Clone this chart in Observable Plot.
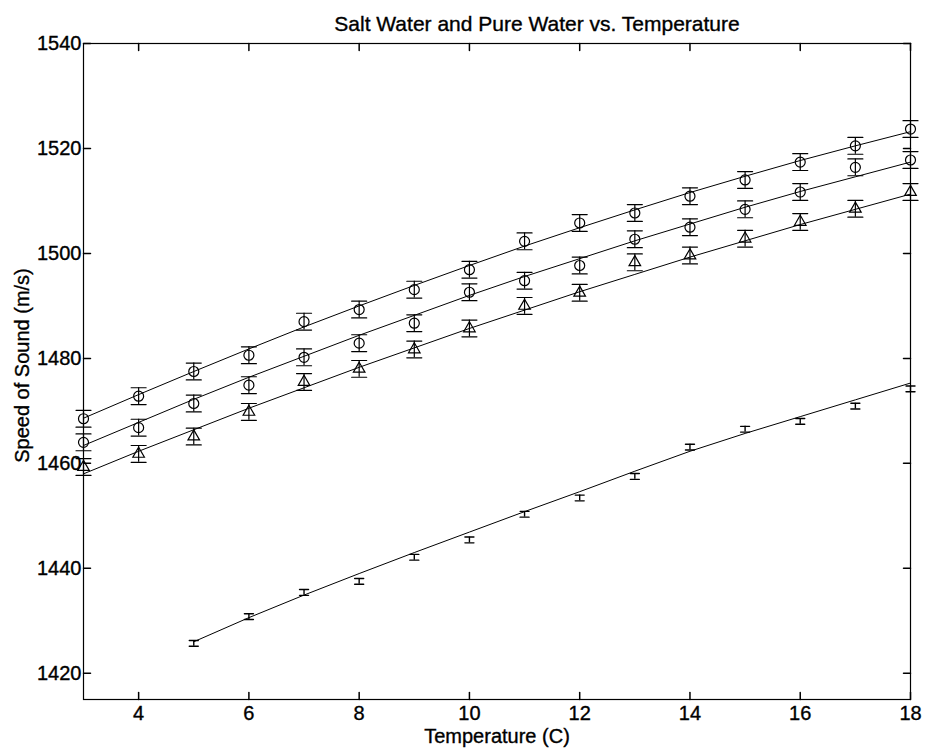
<!DOCTYPE html>
<html>
<head>
<meta charset="utf-8">
<script src="https://cdn.jsdelivr.net/npm/d3@7"></script>
<script src="https://cdn.jsdelivr.net/npm/@observablehq/plot@0.6"></script>
<style>
  html, body { margin: 0; padding: 0; background: white; }
  #chart svg text { stroke: black; stroke-width: 0.35px; }
</style>
</head>
<body>
<div id="chart"></div>
<script>
// ---- Data ----
const title = "Salt Water and Pure Water vs. Temperature";
const xLabel = "Temperature (C)";
const yLabel = "Speed of Sound (m/s)";

const xTicks = [4, 6, 8, 10, 12, 14, 16, 18];
const yTicks = [1420, 1440, 1460, 1480, 1500, 1520, 1540];

const temps = [3, 4, 5, 6, 7, 8, 9, 10, 11, 12, 13, 14, 15, 16, 17, 18];

// upper circles
const saltA = [1468.5, 1472.8, 1477.5, 1480.6, 1487.0, 1489.3, 1493.1, 1496.9, 1502.3, 1505.8, 1507.7, 1510.9, 1514.0, 1517.4, 1520.5, 1523.7];
const errA  = [1.6, 1.6, 1.6, 1.6, 1.6, 1.6, 1.6, 1.6, 1.6, 1.6, 1.6, 1.6, 1.6, 1.6, 1.6, 1.6];
const fitA  = [1468.6, 1473.1, 1477.5, 1481.8, 1486.0, 1490.0, 1493.9, 1497.7, 1501.4, 1504.9, 1508.3, 1511.6, 1514.7, 1517.7, 1520.5, 1523.2];

// middle circles
const saltB = [1464.0, 1466.8, 1471.4, 1474.9, 1480.2, 1482.9, 1486.7, 1492.6, 1494.8, 1497.7, 1502.7, 1505.0, 1508.4, 1511.7, 1516.4, 1517.8];
const errB  = [1.6, 1.6, 1.6, 1.6, 1.6, 1.6, 1.6, 1.6, 1.6, 1.6, 1.6, 1.6, 1.6, 1.6, 1.6, 1.6];
const fitB  = [1463.4, 1467.8, 1472.2, 1476.4, 1480.4, 1484.4, 1488.2, 1492.0, 1495.6, 1499.0, 1502.4, 1505.6, 1508.8, 1511.8, 1514.6, 1517.4];

// triangles
const saltC = [1459.3, 1461.8, 1465.1, 1469.8, 1475.5, 1478.0, 1481.7, 1485.7, 1490.0, 1492.5, 1498.3, 1499.6, 1502.8, 1506.0, 1508.5, 1511.7];
const errC  = [1.6, 1.6, 1.6, 1.6, 1.6, 1.6, 1.6, 1.6, 1.6, 1.6, 1.6, 1.6, 1.6, 1.6, 1.6, 1.6];
const fitC  = [1458.0, 1462.3, 1466.4, 1470.5, 1474.4, 1478.3, 1482.0, 1485.7, 1489.2, 1492.7, 1496.0, 1499.3, 1502.4, 1505.5, 1508.4, 1511.3];

// pure water (error bars only)
const pureTemps = [5, 6, 7, 8, 9, 10, 11, 12, 13, 14, 15, 16, 17, 18];
const pure    = [1425.7, 1430.8, 1435.4, 1437.5, 1442.1, 1445.4, 1450.3, 1453.4, 1457.5, 1463.1, 1466.5, 1468.0, 1470.9, 1474.2];
const pureErr = [0.55, 0.55, 0.55, 0.55, 0.55, 0.55, 0.55, 0.55, 0.55, 0.55, 0.55, 0.55, 0.55, 0.55];
const pureFit = [1426.0, 1430.6, 1434.9, 1439.0, 1443.0, 1446.9, 1450.8, 1454.6, 1458.5, 1462.3, 1465.7, 1468.9, 1472.1, 1475.3];

// ---- Build tables ----
const rows = (xs, vs, es) => xs.map((t, i) => ({t, v: vs[i], e: es ? es[i] : 0}));
const A = rows(temps, saltA, errA), B = rows(temps, saltB, errB), C = rows(temps, saltC, errC);
const P = rows(pureTemps, pure, pureErr);
const FA = rows(temps, fitA), FB = rows(temps, fitB), FC = rows(temps, fitC), FP = rows(pureTemps, pureFit);

const lineShape = {draw(ctx, l) { ctx.moveTo(0, 0); ctx.lineTo(0, -l); }};

function errMarks(data, capLen, sw) {
  return [
    Plot.ruleX(data, {x: "t", y1: d => d.v - d.e, y2: d => d.v + d.e, stroke: "black", strokeWidth: sw}),
    Plot.vector(data, {x: "t", y: d => d.v - d.e, rotate: 90, anchor: "middle", length: capLen, shape: lineShape, stroke: "black", strokeWidth: sw}),
    Plot.vector(data, {x: "t", y: d => d.v + d.e, rotate: 90, anchor: "middle", length: capLen, shape: lineShape, stroke: "black", strokeWidth: sw})
  ];
}

const font = "'Liberation Sans', Arial, Helvetica, sans-serif";

const chart = Plot.plot({
  width: 926,
  height: 750,
  marginLeft: 83,
  marginRight: 16,
  marginTop: 43,
  marginBottom: 51,
  style: {fontFamily: font, fontSize: "20px", color: "black", background: "white"},
  x: {domain: [3, 18]},
  y: {domain: [1415, 1540]},
  marks: [
    Plot.frame({stroke: "black", strokeWidth: 1.2}),
    // inward ticks on all four sides
    Plot.vector(xTicks, {x: d => d, frameAnchor: "bottom", rotate: 0, anchor: "start", length: 7, shape: lineShape, stroke: "black"}),
    Plot.vector(xTicks, {x: d => d, frameAnchor: "top", rotate: 180, anchor: "start", length: 7, shape: lineShape, stroke: "black"}),
    Plot.vector(yTicks, {y: d => d, frameAnchor: "left", rotate: 90, anchor: "start", length: 7, shape: lineShape, stroke: "black"}),
    Plot.vector(yTicks, {y: d => d, frameAnchor: "right", rotate: -90, anchor: "start", length: 7, shape: lineShape, stroke: "black"}),
    // tick labels
    Plot.axisX(xTicks, {anchor: "bottom", tickSize: 0, tickPadding: 6, label: null, fontSize: 20, tickFormat: d => String(d)}),
    Plot.axisY(yTicks, {anchor: "left", tickSize: 0, tickPadding: 2, label: null, fontSize: 20, tickFormat: d => String(d)}),
    // fit lines
    Plot.line(FA, {x: "t", y: "v", stroke: "black", strokeWidth: 1}),
    Plot.line(FB, {x: "t", y: "v", stroke: "black", strokeWidth: 1}),
    Plot.line(FC, {x: "t", y: "v", stroke: "black", strokeWidth: 1}),
    Plot.line(FP, {x: "t", y: "v", stroke: "black", strokeWidth: 1}),
    // error bars
    ...errMarks(A, 15, 1.2),
    ...errMarks(B, 15, 1.2),
    ...errMarks(C, 15, 1.2),
    ...errMarks(P, 9, 1.4),
    // markers
    Plot.dot(A, {x: "t", y: "v", symbol: "circle", r: 5, stroke: "black", fill: "none", strokeWidth: 1.2}),
    Plot.dot(B, {x: "t", y: "v", symbol: "circle", r: 5, stroke: "black", fill: "none", strokeWidth: 1.2}),
    Plot.dot(C, {x: "t", y: "v", symbol: "triangle", r: 4.3, stroke: "black", fill: "none", strokeWidth: 1.2}),
    // titles
    Plot.text([title], {frameAnchor: "top", dy: -19, dx: 40, fontSize: 21, fill: "black", textAnchor: "middle", lineAnchor: "middle"}),
    Plot.text([xLabel], {frameAnchor: "bottom", dy: 37, fontSize: 20, fill: "black", textAnchor: "middle", lineAnchor: "middle"}),
    Plot.text([yLabel], {frameAnchor: "left", dx: -61, dy: -6, rotate: -90, fontSize: 20, fill: "black", textAnchor: "middle", lineAnchor: "middle"})
  ]
});

document.getElementById("chart").appendChild(chart);
</script>
</body>
</html>
